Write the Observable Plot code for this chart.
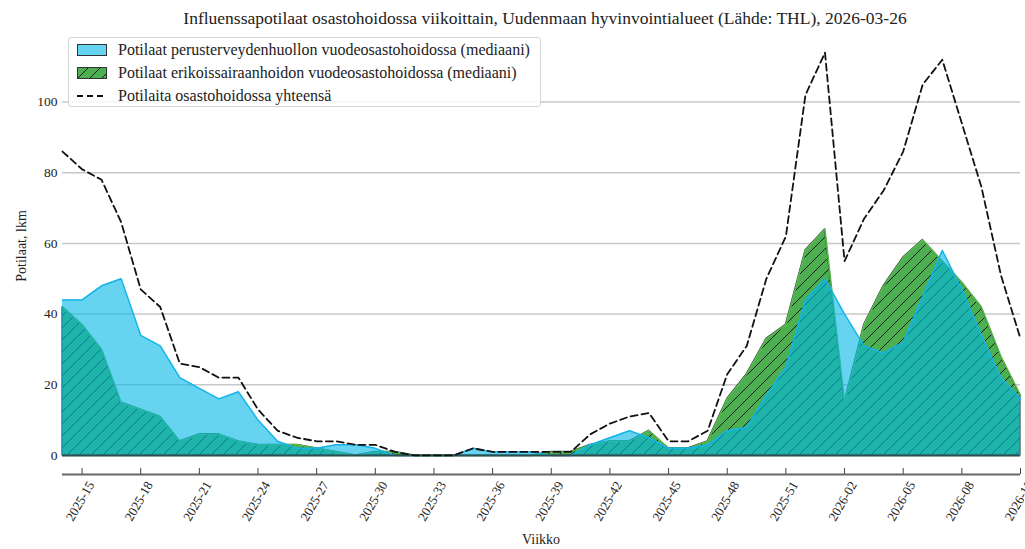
<!DOCTYPE html>
<html><head><meta charset="utf-8">
<script src="https://cdn.jsdelivr.net/npm/d3@7"></script>
<script src="https://cdn.jsdelivr.net/npm/@observablehq/plot@0.6"></script>
<style>
body{margin:0;background:#fff;font-family:"Liberation Serif",serif;color:#222;}
#wrap{position:relative;width:1025px;height:549px;overflow:hidden;}
#title{height:30px;line-height:36px;font-size:17.5px;text-align:center;margin-left:66px;width:958px;white-space:nowrap;}
#xlabel{position:absolute;left:62px;width:958px;top:532px;text-align:center;font-size:14px;}
#ylabel{position:absolute;left:-28px;top:238px;width:100px;text-align:center;font-size:14px;transform:rotate(-90deg);white-space:nowrap;}
#legend{position:absolute;left:68px;top:37px;width:471px;height:68px;border:1px solid #d4d4d4;border-radius:3px;background:rgba(255,255,255,0.85);font-size:16px;}
.row{position:absolute;left:8px;height:20px;display:flex;align-items:center;white-space:nowrap;}
.row svg{margin-right:11px;}
</style></head>
<body>
<div id="wrap">
  <div id="title">Influenssapotilaat osastohoidossa viikoittain, Uudenmaan hyvinvointialueet (Lähde: THL), 2026-03-26</div>
  <div id="chart"></div>
  <div id="legend">
    <div class="row" style="top:2px"><svg width="30" height="12"><rect x="0.5" y="0.5" width="29" height="11" fill="#66d3f1" stroke="#333" stroke-width="1"/></svg><span>Potilaat perusterveydenhuollon vuodeosastohoidossa (mediaani)</span></div>
    <div class="row" style="top:25px"><svg width="30" height="12"><defs><pattern id="hatchLeg" patternUnits="userSpaceOnUse" width="12" height="12"><rect width="12" height="12" fill="#4caf50"/><path d="M-3,3 l6,-6 M0,12 l12,-12 M9,15 l6,-6" stroke="#1a1a1a" stroke-width="1"/></pattern></defs><rect x="0.5" y="0.5" width="29" height="11" fill="url(#hatchLeg)" stroke="#333" stroke-width="1"/></svg><span>Potilaat erikoissairaanhoidon vuodeosastohoidossa (mediaani)</span></div>
    <div class="row" style="top:48px"><svg width="30" height="12"><line x1="0" y1="6" x2="30" y2="6" stroke="#111" stroke-width="2" stroke-dasharray="6,4"/></svg><span>Potilaita osastohoidossa yhteensä</span></div>
  </div>
  <div id="xlabel">Viikko</div>
  <div id="ylabel">Potilaat, lkm</div>
</div>
<script>
const weeks = ["2025-14","2025-15","2025-16","2025-17","2025-18","2025-19","2025-20","2025-21","2025-22","2025-23",
  "2025-24","2025-25","2025-26","2025-27","2025-28","2025-29","2025-30","2025-31","2025-32","2025-33",
  "2025-34","2025-35","2025-36","2025-37","2025-38","2025-39","2025-40","2025-41","2025-42","2025-43",
  "2025-44","2025-45","2025-46","2025-47","2025-48","2025-49","2025-50","2025-51","2025-52","2026-01",
  "2026-02","2026-03","2026-04","2026-05","2026-06","2026-07","2026-08","2026-09","2026-10","2026-11"];
const perusterveydenhuolto = [44,44,48,50,34,31,22,19,16,18,10,4,2,2,3,3,2,0,0,0,0,2,1,1,1,0,0,3,5,7,5,2,2,3,7,8,17,25,44,50,40,31,29,32,45,58,47,34,22,16];
const erikoissairaanhoito = [42,37,30,15,13,11,4,6,6,4,3,3,3,2,1,0,1,1,0,0,0,0,0,0,0,1,1,3,4,4,7,2,2,4,16,23,33,37,58,64,15,37,48,56,61,55,49,42,28,17];
const yhteensa = [86,81,78,66,47,42,26,25,22,22,13,7,5,4,4,3,3,1,0,0,0,2,1,1,1,1,1,6,9,11,12,4,4,7,23,31,50,62,102,114,55,67,75,86,105,112,94,76,51,33];
const tickLabels = ["2025-15","2025-18","2025-21","2025-24","2025-27","2025-30","2025-33","2025-36","2025-39","2025-42","2025-45","2025-48","2025-51","2026-02","2026-05","2026-08","2026-11"];
const yTicks = [0,20,40,60,80,100];

const Y_MIN = -5.4, Y_MAX = 119.7, TICK_TOP = -3.7;
const data = weeks.map((w,i)=>({week:w, blue:perusterveydenhuolto[i], green:erikoissairaanhoito[i], total:yhteensa[i]}));

const plot = Plot.plot({
  width:1025, height:500, marginLeft:62, marginRight:5, marginTop:2, marginBottom:56,
  style:{fontFamily:"Liberation Serif", fontSize:"13px", color:"#222", background:"transparent"},
  x:{type:"point", domain:weeks, padding:0, round:false, axis:null},
  y:{domain:[Y_MIN, Y_MAX]},
  marks:[
    Plot.ruleY(yTicks,{stroke:"#c8c8c8", strokeWidth:1.5}),
    Plot.areaY(data,{x:"week", y:"green", fill:"url(#hatchGreen)", stroke:"#2f4f4f", strokeWidth:1.2}),
    Plot.lineY(data,{x:"week", y:"green", stroke:"#5cb84a", strokeWidth:1.5}),
    Plot.areaY(data,{x:"week", y:"blue", fill:"#00b7e6", fillOpacity:0.6}),
    Plot.lineY(data,{x:"week", y:"blue", stroke:"#14b4ea", strokeWidth:1.5}),
    Plot.ruleY([0],{stroke:"#2f4f4f", strokeWidth:2}),
    Plot.lineY(data,{x:"week", y:"total", stroke:"#111", strokeWidth:1.8, strokeDasharray:"7,4"}),
    Plot.ruleY([Y_MIN],{stroke:"#666", strokeWidth:2}),
    Plot.ruleX(tickLabels,{x:d=>d, y1:Y_MIN, y2:TICK_TOP, stroke:"#444", strokeWidth:1}),
    Plot.text(tickLabels,{x:d=>d, y:Y_MIN, text:d=>d, rotate:-60, textAnchor:"end", dx:9, dy:8, fontSize:13, fill:"#222"}),
    Plot.axisY({ticks:yTicks, tickSize:0, tickPadding:5, label:null, fontSize:13.5})
  ]
});
d3.select(plot).insert("defs",":first-child").html(
  '<pattern id="hatchGreen" patternUnits="userSpaceOnUse" width="12" height="12">' +
  '<rect width="12" height="12" fill="#4caf50"/>' +
  '<path d="M-3,3 l6,-6 M0,12 l12,-12 M9,15 l6,-6" stroke="#1a1a1a" stroke-width="1"/></pattern>');
document.getElementById("chart").appendChild(plot);
</script>
</body></html>
